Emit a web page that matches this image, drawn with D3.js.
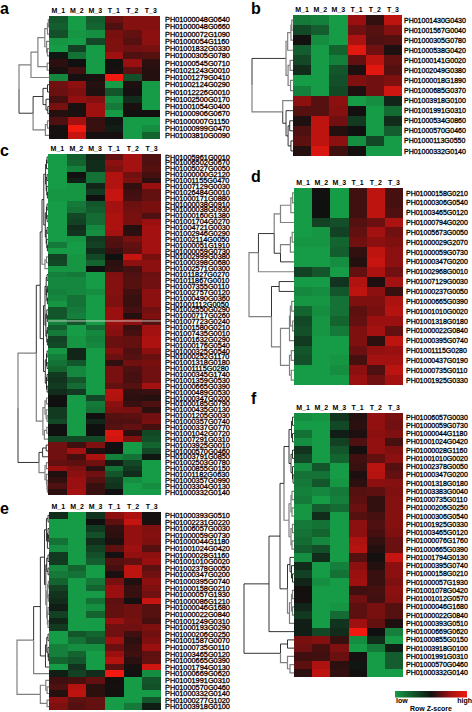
<!DOCTYPE html>
<html>
<head>
<meta charset="utf-8">
<script src="https://cdn.jsdelivr.net/npm/d3@7"></script>
<style>
  html, body { margin: 0; padding: 0; background: #fff; }
  text { font-family: "Liberation Sans", Arial, sans-serif; fill: #000; }
</style>
</head>
<body>
<div id="chart"></div>
<script>
'use strict'
const samples = ['M_1', 'M_2', 'M_3', 'T_1', 'T_2', 'T_3']

/* Panel a */
const rowsA = ['PH01000048G0640','PH01000048G0660','PH01000072G1090','PH01000054G1160','PH01001832G0330','PH01000305G0780','PH01000545G0710','PH01021243G0010','PH01001279G0410','PH01002124G0290','PH01012226G0010','PH01002500G0170','PH01001054G0400','PH01000906G0670','PH01000007G1150','PH01000999G0470','PH01003810G0090']
const valuesA = [
  [-.5,-1,-.55,.65,.85,.85],[-.55,-1,-.6,.45,.85,.85],[-.45,-.95,-.9,.75,.6,.9],[-.95,-1,-.4,.8,.5,.9],
  [-1,-.35,-1,.8,.7,.75],[-.05,-.7,-1,1.05,.45,.5],[.2,0,-1,.02,1,.2],[.08,.35,-1,.05,.55,.15],
  [-.85,.05,.07,2,-.45,.15],[.7,.9,.15,-1,.1,-1],[.65,.8,.12,-.5,.05,-1],[.4,.95,.85,-.9,-.2,-1],
  [.75,.07,1.05,-.75,.07,-1],[.15,.07,1.05,-1,.02,.03],[.45,1.1,.3,-.05,-1,-1],[.05,2,.3,-.1,-1,-.9],
  [.05,1.5,.05,.05,-1,-.6]
]
// [height, upper, lower, grey flag], plain numbers are row indexes
// flag 1 turns a branch grey, flag 0 turns it back to black
const treeA = [1,
  [.6,[.37,[.14,[.05,[.02,0,1],2],[.08,3,[.05,4,5]]],[.06,6,7]],8,1],
  [.53,[.2,[.05,9,10],[.1,11,[.04,12,13]]],[.12,[.05,14,15],16,1]]
]

/* Panel b */
const rowsB = ['PH01001430G0430','PH01001567G0040','PH01000305G0780','PH01000538G0420','PH01000141G0020','PH01002049G0380','PH01000018G1890','PH01000685G0370','PH01003918G0100','PH01001991G0310','PH01000534G0860','PH01000570G0460','PH01000113G0550','PH01000332G0140']
const valuesB = [
  [-.75,-.8,-1,1,.25,1.4],[-.4,-.55,-1,.7,.5,.85],[.02,-.9,-1,1.2,.45,.5],[-.55,-1,-.6,1.8,.7,.1],
  [-.4,-1,-.8,.6,1.4,.6],[-.2,-1,-.5,.1,1.8,.5],[-1,-1,-.45,.8,.7,.8],[-.8,-1,-.4,.1,.7,1.6],
  [.9,.5,.9,-1,-.9,-.15],[.5,.5,.85,.03,-1,-.65],[.1,1.4,.7,-.3,-1,-.2],[.45,1.4,.15,0,-1,-.55],
  [.55,1.4,.9,-.9,-.4,-1],[.15,1.7,.35,.03,-1,-1]
]
const treeB = [1,
  [.17,[.13,[.05,[.03,0,1],2],3,1],[.12,[.07,4,5],[.06,6,7],1]],
  [.25,8,[.17,9,[.12,[.08,10,11],[.05,12,13]],0],1]
]

/* Panel c */
const rowsC = ['PH01005961G0010','PH01006502G0670','PH01005027G0050','PH01000000G2120','PH01001155G0470','PH01007129G0030','PH01026484G0010','PH01000171G0880','PH01000038G0910','PH01000038G0930','PH01000160G1380','PH01001704G0270','PH01004721G0030','PH01002946G0290','PH01002114G0050','PH01000051G1910','PH01000059G0730','PH01002999G0380','PH01000398G0680','PH01002571G0300','PH01011827G0270','PH01011867G0010','PH01007355G0110','PH01002757G0120','PH01000490G0360','PH01001112G0050','PH01002550G0290','PH01000717G0260','PH01007723G0240','PH01001580G0210','PH01007435G0010','PH01001632G0290','PH01000176G0540','PH01000325G0540','PH01000252G1170','PH01001318G0180','PH01001115G0280','PH01000345G1740','PH01001359G0530','PH01000665G0390','PH01000489G0530','PH01000347G0200','PH01000185G0790','PH01000435G0130','PH01001205G0030','PH01000357G0740','PH01000337G0770','PH01001042G0720','PH01007291G0310','PH01003925G0010','PH01000570G0460','PH01003791G0850','PH01002503G0780','PH01000855G0150','PH01001182G0630','PH01000357G0990','PH01003304G0130','PH01000332G0140']
const valuesC = [
  [-1,-.55,-.15,.6,1.1,.45],[-1,-.6,-.2,.9,1.1,.45],[-1,-.8,-.2,.8,1.1,.5],[-1,.02,-.7,1.25,.7,.4],
  [-1,-.1,-.7,1.25,.8,.2],[-1,-.95,-.15,1.25,.25,1],[-.95,-.95,-.3,1.5,.35,.6],[-.95,-.95,0,1.5,.4,.6],
  [-1,-.75,-.5,1.1,.65,.75],[-1,-.7,-.55,1.1,.7,.75],[-1,-.4,-.65,1.2,.75,.45],[-1,-.35,-.65,1.2,.75,1],
  [-1,-.2,-.85,1.2,.15,1.1],[-1,-.25,-.9,1.1,.2,1.1],[-1,-.95,-.3,.5,.75,1.1],[-.75,-1,-.35,.45,.6,1.1],
  [-1,-1,-.2,.3,.55,1.1],[-.35,-.95,-.4,0,1.5,.75],[-.4,-.95,-.6,.2,.9,.9],[-.95,-.95,0,.25,.4,.9],
  [-.8,-.75,-1,.8,.45,.65],[-.85,-.85,-1,.85,.5,.7],[-.85,-.85,-1,.85,.5,.7],[-.8,-.85,-.9,.85,.35,.9],
  [-.85,-.7,-1,.8,.3,.9],[-.95,-.7,-1,.8,.3,.9],[-.5,-.75,-1,1,.4,.7],[-.5,-.8,-1,1,.15,.8],
  [-.8,-.5,-1,1,.9,.5],[-.55,-1,-.65,.9,.3,1.1],[-.75,-1,-.85,.85,.4,1.1],[-.35,-.95,-.8,.65,.6,1.2],
  [-.4,-.95,-.85,.65,.6,1.2],[-.95,-.15,-1,.85,.45,.9],[-.8,-.15,-1,.65,.5,.65],[-.7,-.5,-1,.25,.7,.75],
  [-.6,-.85,-1,.75,.45,.7],[-.3,-.85,-1,.75,.4,.7],[-.25,-.5,-1,.75,.4,.7],[-.3,-.65,-1,.6,.5,1.1],
  [-.2,-.3,-1,1.3,.25,.3],[0,-1,-.4,1.25,.2,.15],[0,-1,-.75,.9,.3,.45],[-.3,-1,-.7,.8,.75,.2],
  [-.3,-1,0,.5,.55,.7],[-.4,-1,-.15,.45,.45,.75],[0,-1,0,.5,.6,.4],[0,-1,0,1.7,.2,-.4],
  [-.4,-.4,-.4,1.6,.8,-.45],[.7,.35,.8,0,-1,-.6],[.7,1.1,.1,0,-1,-.4],[.7,.4,1.2,-.8,-.7,-.05],
  [.6,.55,.7,-.1,-.4,-1],[1,.8,.2,-.7,-.3,-1],[.1,.9,.7,-.5,-.2,-1],[.25,1,.5,-.3,-.9,-1],
  [.45,1,.3,-.25,-1,-.9],[.2,1.1,.3,0,-1,-1]
]
const treeC = [1,
  [.39,
    [.26,
      [.2,[.14,[.08,[.05,[.03,0,1],2],[.06,[.03,3,4],[.04,5,[.02,6,7]]]],[.09,[.05,[.03,8,9],[.03,10,11]],[.06,[.03,12,13],[.04,14,[.02,15,16]]]]],[.1,[.05,17,18],19,1]],
      [.15,[.1,[.06,[.03,20,21],[.04,[.02,22,23],[.02,24,25]]],[.07,[.04,26,[.02,27,28]],[.04,[.02,29,30],[.02,31,32]]]],[.09,[.05,[.03,33,34],[.03,35,36]],[.05,[.03,37,38],[.03,39,40]]]],
      0
    ],
    [.17,[.1,[.05,41,42],[.06,43,[.03,44,45]],1],[.12,[.04,46,47],48,1]],
    1
  ],
  [.3,[.18,[.06,49,50],51],[.1,[.05,52,53],[.05,54,[.03,55,[.02,56,57]]],1]]
]

/* Panel d */
const rowsD = ['PH01000158G0210','PH01000306G0540','PH01003465G0120','PH01000794G0200','PH01005673G0050','PH01000029G2070','PH01000059G0730','PH01000347G0200','PH01002968G0010','PH01007129G0030','PH01000237G0050','PH01000665G0390','PH01001010G0020','PH01001318G0180','PH01000022G0840','PH01000395G0740','PH01001115G0280','PH01000437G0190','PH01000735G0110','PH01001925G0330']
const valuesD = [
  [-1,.02,-1,.35,1.4,.4],[-1,0,-1,.35,1.4,.4],[-1,0,-1,.35,1.4,.45],[-1,-.35,-.45,.5,.65,1.2],
  [-1,-.95,-.35,.6,1.1,.7],[-.95,-.95,-.6,.7,.9,.8],[-1,-1,-.55,.25,1.4,.9],[-1,-1,-.9,.15,1.5,.9],
  [-.35,-.5,-1,.6,1.2,.7],[-1,-1,-.25,1.25,.1,1.1],[-.85,-.9,-.5,1.4,.9,.3],[-.95,-.95,-.7,.8,.8,1.2],
  [-.6,-.9,-.7,.55,.75,1.3],[-.4,-.95,-.6,.6,1,1],[-.45,-.95,-.75,.8,1.1,.6],[-.3,-1,-1,.8,.2,1.4],
  [-.5,-1,-1,.65,.95,1],[-.45,-1,-.95,.4,1.1,1.1],[-1,-1,-.9,.9,.45,1.35],[-1,-1,-1,1,.7,1.1]
]
const treeD = [1,
  [.79,[.44,[.3,[.07,[.03,0,1],2,1],3,1],[.3,[.08,[.04,4,5],6,1],7],0],8,1],
  [.5,[.33,9,10,0],[.3,[.1,[.08,[.05,11,12],[.03,13,14]],15],[.1,[.06,16,17],[.06,18,19]],1],1]
]

/* Panel e */
const rowsE = ['PH01000393G0510','PH01002231G0220','PH01006057G0030','PH01000059G0730','PH01000044G1180','PH01001024G0420','PH01000028G1160','PH01001010G0020','PH01002378G0050','PH01000347G0200','PH01000395G0740','PH01000158G0210','PH01000057G1930','PH01000086G1210','PH01000046G1680','PH01000022G0840','PH01001249G0310','PH01000193G0290','PH01000206G0250','PH01001587G0070','PH01000735G0110','PH01003465G0120','PH01000665G0390','PH01001794G0130','PH01000669G0620','PH01001991G0310','PH01000570G0460','PH01000332G0140','PH01000277G1020','PH01003918G0100']
const valuesE = [
  [-.2,-1,-.25,.9,1.2,.05],[-1,-1,0,.55,1.5,.08],[-1,-1,-.3,.25,.95,.8],[-1,-1,-.45,.2,.95,.85],
  [-.7,-1,-.2,.1,.95,.8],[-.9,-1,-.35,.55,1.05,.5],[-.3,-1,-.45,.05,.95,.9],[-.3,-1,-.55,.5,.6,1],
  [-.85,-.6,-1,.4,1.4,.55],[-.75,-.7,-1,.08,1.4,.7],[-.6,-1,-.75,.75,.12,.9],[-.35,-1,-.6,1,.3,.8],
  [-.25,-1,-1,1,.3,.7],[-.2,-1,-.7,.55,.05,1.5],[-.1,-1,-.9,.6,.7,.5],[-.35,-1,-.6,.6,.7,.5],
  [-.15,-1,-1,1,.75,.4],[-.3,-1,-1,.7,.7,.8],[-1,-.5,-.6,.7,.35,.7],[-1,-.7,-.5,1.05,.2,.8],
  [-.8,-.9,-.9,.65,.3,1],[-.8,-.6,-1,1,.35,.55],[-.6,-.5,-1,1.3,.2,.6],[-1,-.25,-1,.55,.05,1.6],
  [-.1,-.35,-.2,2,.02,-.9],[.35,.4,.6,.03,-1,-.5],[.45,1.3,.2,.05,-1,-.45],[.15,1.4,.2,.02,-1,-1],
  [.9,.55,.6,-1,-1,-.5],[.8,.5,.6,-1,-.75,-.1]
]
const treeE = [1,
  [.48,[.27,
    [.14,[.08,[.03,0,1],[.05,[.03,2,[.02,3,4]],5]],[.1,[.07,[.03,6,7],[.03,8,9]],[.07,[.04,[.02,10,11],[.02,12,13]],[.05,[.03,14,15],[.03,16,17],1],1]]],
    [.11,[.07,[.03,18,19],[.03,20,[.02,21,22]]],23],0],24,1],
  [.27,[.1,25,[.06,26,27]],[.06,28,29],1]
]

/* Panel f */
const rowsF = ['PH01006057G0030','PH01000059G0730','PH01000044G1180','PH01001024G0420','PH01000028G1160','PH01001010G0020','PH01002378G0050','PH01000347G0200','PH01001318G0180','PH01003383G0040','PH01000735G0110','PH01000206G0250','PH01000306G0540','PH01001925G0330','PH01003465G0120','PH01000076G1760','PH01000665G0390','PH01001794G0130','PH01000395G0740','PH01000158G0210','PH01000057G1930','PH01001078G0420','PH01001012G0570','PH01000046G1680','PH01000022G0840','PH01000393G0510','PH01000669G0620','PH01000855G0150','PH01003918G0100','PH01001991G0310','PH01000570G0460','PH01000332G0140']
const valuesF = [
  [-.9,-.95,-.25,.15,.95,.75],[-1,-1,-.4,.2,.95,.7],[-.7,-1,-.1,.1,.9,.8],[-.9,-1,-.35,.45,.95,.4],
  [-.25,-1,-.5,.03,.95,.8],[-.4,-1,-.6,.35,.6,.9],[-.9,-.5,-1,.3,1.35,.5],[-.7,-.7,-1,.1,1.3,.6],
  [-.75,-.5,-.95,.2,.9,.85],[-.8,-.85,-.75,.5,.55,.8],[-.75,-1,-.8,.55,.25,.85],[-.95,-.55,-.65,.65,.25,.85],
  [-.95,-.2,-1,.5,.4,.85],[-.75,-.7,-1,.9,.45,.85],[-.7,-.6,-1,.9,.4,.8],[-.65,-.85,-1,1.2,.25,.65],
  [-.55,-.45,-1,1.3,.15,.65],[-.9,-.2,-1,.5,.03,1.5],[-.2,-1,-.8,.9,.15,.9],[-.35,-1,-.7,1,.3,.9],
  [-.15,-.9,-1,1.05,.3,.8],[.03,-1,-1,.35,.4,.9],[.03,-1,-1,.7,.35,.85],[-.15,-1,-.95,.55,.75,.5],
  [-.3,-1,-.65,.55,.75,.5],[-.1,-1,-.25,1.05,.6,.1],[-.1,-.4,-.2,2,0,-.8],[.75,.85,.3,-.9,-.2,-1],
  [.7,.4,.8,-1,-.75,-.1],[.35,.35,.65,.05,-1,-.55],[.55,1.2,.2,-.05,-1,-.55],[.2,1.4,.25,.02,-1,-1]
]
const treeF = [1,
  [.5,[.28,
    [.2,[.1,[.05,[.03,0,1],[.03,2,3]],[.06,[.03,4,5],[.03,6,[.02,7,8]]]],[.1,[.06,[.04,9,10],[.04,11,12]],[.06,[.03,13,14],[.04,15,16],1],1]],
    [.13,[.08,17,[.05,18,[.03,19,20]]],[.09,[.05,[.03,21,22],[.03,23,24]],25,1]]],26],
  [.27,[.13,27,28],[.13,29,[.08,30,31],1]]
]

/* Layout of the six panels */
const panels = [
  {name: 'a', rows: rowsA, values: valuesA, tree: treeA, x0: 49, x1: 160, y0: 16, y1: 139, root: 19, fs: 7.35, lx: 165, letter: [0, 14]},
  {name: 'b', rows: rowsB, values: valuesB, tree: treeB, x0: 293, x1: 402, y0: 15, y1: 156, root: 252, fs: 7, lx: 404, letter: [251, 14]},
  {name: 'c', rows: rowsC, values: valuesC, tree: treeC, x0: 48, x1: 161, y0: 154, y1: 495, root: 18, fs: 7.35, lx: 165, letter: [0, 156]},
  {name: 'd', rows: rowsD, values: valuesD, tree: treeD, x0: 294, x1: 403, y0: 188, y1: 385, root: 249, fs: 7, lx: 406, letter: [251, 182]},
  {name: 'e', rows: rowsE, values: valuesE, tree: treeE, x0: 49, x1: 161, y0: 512, y1: 710, root: 17, fs: 7.35, lx: 165, letter: [0, 514]},
  {name: 'f', rows: rowsF, values: valuesF, tree: treeF, x0: 294, x1: 403, y0: 413, y1: 677, root: 244, fs: 7, lx: 406, letter: [251, 404]}
]

let width = 472
let height = 712

let color = d3.scaleLinear()
  .domain([-1, 0, 1, 2])
  .range(['#169c46', '#101010', '#9a1010', '#f21a10'])
  .clamp(true)

let svg = d3.select('#chart').append('svg')
  .attr('width', width)
  .attr('height', height)
  .style('display', 'block')

/*
  Paint one heatmap with its headers, labels and dendrogram
*/
function paint(p) {
  let g = svg.append('g').attr('class', 'panel-' + p.name)
  let xscale = d3.scaleBand().domain(samples).range([p.x0, p.x1])
  let yscale = d3.scaleBand().domain(d3.range(p.rows.length)).range([p.y0, p.y1])

  p.values.forEach((row, r) => {
    g.append('g').selectAll('rect')
      .data(row)
      .enter()
      .append('rect')
      .attr('x', (d, i) => xscale(samples[i]))
      .attr('y', yscale(r))
      .attr('width', xscale.bandwidth())
      .attr('height', yscale.bandwidth() + .3)
      .attr('shape-rendering', 'crispEdges')
      .style('fill', d => color(d))
  })

  g.selectAll('.col')
    .data(samples)
    .enter()
    .append('text')
    .attr('class', 'col')
    .attr('x', d => xscale(d) + xscale.bandwidth() / 2)
    .attr('y', p.y0 - 3)
    .attr('text-anchor', 'middle')
    .style('font-size', '7px')
    .style('font-weight', 'bold')
    .text(d => d)

  g.selectAll('.row')
    .data(p.rows)
    .enter()
    .append('text')
    .attr('class', 'row')
    .attr('x', p.lx)
    .attr('y', (d, i) => yscale(i) + yscale.bandwidth() / 2 + 2.6)
    .style('font-size', p.fs + 'px')
    .style('stroke', '#000')
    .style('stroke-width', .3)
    .text(d => d)

  g.append('text')
    .attr('x', p.letter[0])
    .attr('y', p.letter[1])
    .style('font-size', '16px')
    .style('font-weight', 'bold')
    .text(p.name)

  // dendrogram, heights run from the heatmap edge to the root
  let hscale = d3.scaleLinear().domain([0, 1]).range([p.x0, p.root])
  let root = d3.hierarchy(p.tree, d => Array.isArray(d) ? d.slice(1, 3) : null)
  root.eachBefore(n => {
    let flag = Array.isArray(n.data) ? n.data[3] : undefined
    n.grey = flag === undefined ? (n.parent ? n.parent.grey : false) : flag === 1
    n.h = Array.isArray(n.data) ? n.data[0] : 0
  })
  root.eachAfter(n => {
    n.y = n.children
      ? d3.mean(n.children, c => c.y)
      : yscale(n.data) + yscale.bandwidth() / 2
  })
  g.append('g').selectAll('path')
    .data(root.links())
    .enter()
    .append('path')
    .attr('d', l => 'M' + hscale(l.target.h) + ',' + l.target.y + 'H' + hscale(l.source.h) + 'V' + l.source.y)
    .style('fill', 'none')
    .style('stroke', l => l.target.grey ? '#808080' : '#000')
    .style('stroke-width', l => l.target.grey ? 1.2 : .8)
}

panels.forEach(paint)

// the pale seam across panel c
let seam = panels[2]
let seamY = d3.scaleLinear().domain([0, seam.rows.length]).range([seam.y0, seam.y1])
svg.append('line')
  .attr('x1', seam.x0).attr('x2', seam.x1)
  .attr('y1', seamY(28.4)).attr('y2', seamY(28.4))
  .style('stroke', '#e8e8e0')
  .style('stroke-width', .8)

/*
  Colour key
*/
let defs = svg.append('defs')
let grad = defs.append('linearGradient').attr('id', 'key')
grad.selectAll('stop')
  .data([[0, -1], [.5, 0], [.75, 1], [1, 2]])
  .enter()
  .append('stop')
  .attr('offset', d => d[0])
  .attr('stop-color', d => color(d[1]))

svg.append('rect')
  .attr('x', 395).attr('y', 691)
  .attr('width', 72).attr('height', 6.5)
  .style('fill', 'url(#key)')

svg.append('text').attr('x', 396).attr('y', 703)
  .style('font-size', '7px').style('font-weight', 'bold').text('low')
svg.append('text').attr('x', 472).attr('y', 703)
  .attr('text-anchor', 'end')
  .style('font-size', '7px').style('font-weight', 'bold').text('high')
svg.append('text').attr('x', 431).attr('y', 711)
  .attr('text-anchor', 'middle')
  .style('font-size', '7px').style('font-weight', 'bold').text('Row Z-score')
</script>
</body>
</html>
